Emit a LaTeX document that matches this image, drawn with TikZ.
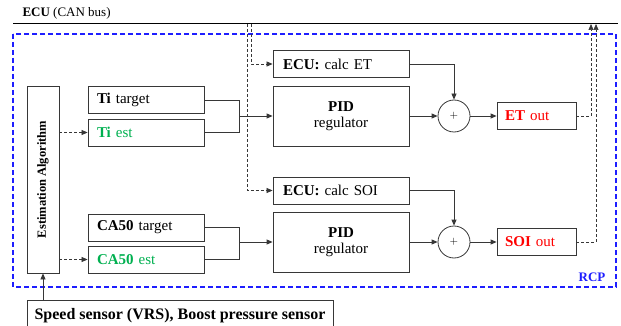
\documentclass[tikz,border=0pt]{standalone}
\usepackage{fontspec}
\setmainfont{Liberation Serif}
\usetikzlibrary{arrows.meta}
\definecolor{grn}{RGB}{0,176,80}
\definecolor{rcpblue}{RGB}{30,30,255}
\definecolor{boxgray}{RGB}{55,55,55}
\begin{document}
\begin{tikzpicture}[x=1pt,y=-1pt,
  every node/.style={font=\fontsize{15}{16}\selectfont},
  box/.style={draw=boxgray, line width=0.8pt, inner sep=0pt, minimum height=27pt},
  lbox/.style={box, inner xsep=9pt, text width=98pt, align=left},
  pidbox/.style={box, minimum width=136pt, minimum height=60pt, align=center, font=\fontsize{15}{17}\selectfont},
  ecubox/.style={box, inner xsep=10pt, text width=116pt, align=left},
  outbox/.style={box, inner xsep=8pt, text width=63pt, align=left},
  sumc/.style={circle, draw=boxgray, line width=0.8pt, minimum size=32pt, inner sep=0pt},
  conn/.style={draw=boxgray, line width=0.8pt},
  arr/.style={conn, -{Triangle[length=6pt,width=5pt]}},
  darr/.style={draw=boxgray, line width=0.7pt, dash pattern=on 3pt off 2pt, -{Triangle[length=6pt,width=5pt]}}
]
\useasboundingbox (0,0) rectangle (621,326);
% CAN bus
\node[anchor=west, font=\fontsize{13}{14}\selectfont] (canlabel) at (19,13) {\textbf{ECU} (CAN bus)};
\coordinate (busL) at (13,24);
\coordinate (busR) at (618,24);
\draw[black, line width=1pt] (busL) -- (busR);
% RCP frame
\draw[rcpblue, line width=1.2pt, dash pattern=on 5pt off 3pt] (13,34) rectangle (616,287);
\node[text=rcpblue, font=\fontsize{13}{14}\selectfont\bfseries] (rcp) at (592,277) {RCP};
% estimation
\node[box, minimum width=32pt, minimum height=187pt] (est) at (43,179.5) {};
\node[rotate=90, font=\fontsize{12.5}{14}\selectfont\bfseries] (esttext) at (43,179.5) {Estimation Algorithm};
% inputs
\node[lbox] (titarget) at (146,100) {\textbf{Ti} target};
\node[lbox, text=grn] (tiest) at (146,132.5) {\textbf{Ti} est};
\node[lbox] (catarget) at (146,227.5) {\textbf{CA50} target};
\node[lbox, text=grn] (caest) at (146,259.5) {\textbf{CA50} est};
% ECU calc
\node[ecubox] (ecuet) at (341,64) {\textbf{ECU:} calc ET};
\node[ecubox] (ecusoi) at (341,190.5) {\textbf{ECU:} calc SOI};
% PID
\node[pidbox] (pid1) at (341,116) {\textbf{PID}\\[-1pt]regulator};
\node[pidbox] (pid2) at (341,242) {\textbf{PID}\\[-1pt]regulator};
% sums
\node[sumc] (sum1) at (454,116) {\fontsize{11}{12}\selectfont$+$};
\node[sumc] (sum2) at (454,242) {\fontsize{11}{12}\selectfont$+$};
% outputs
\node[outbox, text=red] (etout) at (536.5,116) {\textbf{ET} out};
\node[outbox, text=red] (soiout) at (536.5,242) {\textbf{SOI} out};
% sensor
\node[box, minimum width=306pt, minimum height=32pt, font=\fontsize{16}{17}\selectfont\bfseries] (sensor) at (180,316) {Speed sensor (VRS), Boost pressure sensor};
% junctions
\coordinate (j1) at (239,116);
\coordinate (j2) at (239,242);
\draw[conn] (titarget.east) -| (j1);
\draw[conn] (tiest.east) -| (j1);
\draw[arr] (j1) -- (pid1.west);
\draw[conn] (catarget.east) -| (j2);
\draw[conn] (caest.east) -| (j2);
\draw[arr] (j2) -- (pid2.west);
% estimation outputs
\draw[darr] (est.east |- tiest.west) -- (tiest.west);
\draw[darr] (est.east |- caest.west) -- (caest.west);
% bus to ECU
\coordinate (b1) at (251,24);
\coordinate (b2) at (247,24);
\draw[darr] (b1) |- (ecuet.west);
\draw[darr] (b2) |- (ecusoi.west);
% ECU calc to sums
\draw[arr] (ecuet.east) -| (sum1.north);
\draw[arr] (ecusoi.east) -| (sum2.north);
\draw[arr] (pid1.east) -- (sum1.west);
\draw[arr] (pid2.east) -- (sum2.west);
\draw[arr] (sum1.east) -- (etout.west);
\draw[arr] (sum2.east) -- (soiout.west);
% outputs to bus
\coordinate (b3) at (591,24);
\coordinate (b4) at (596,24);
\draw[darr] (etout.east) -| (b3);
\draw[darr] (soiout.east) -| (b4);
% sensor to estimation
\draw[arr] (sensor.north -| est.south) -- (est.south);
\end{tikzpicture}
\end{document}
